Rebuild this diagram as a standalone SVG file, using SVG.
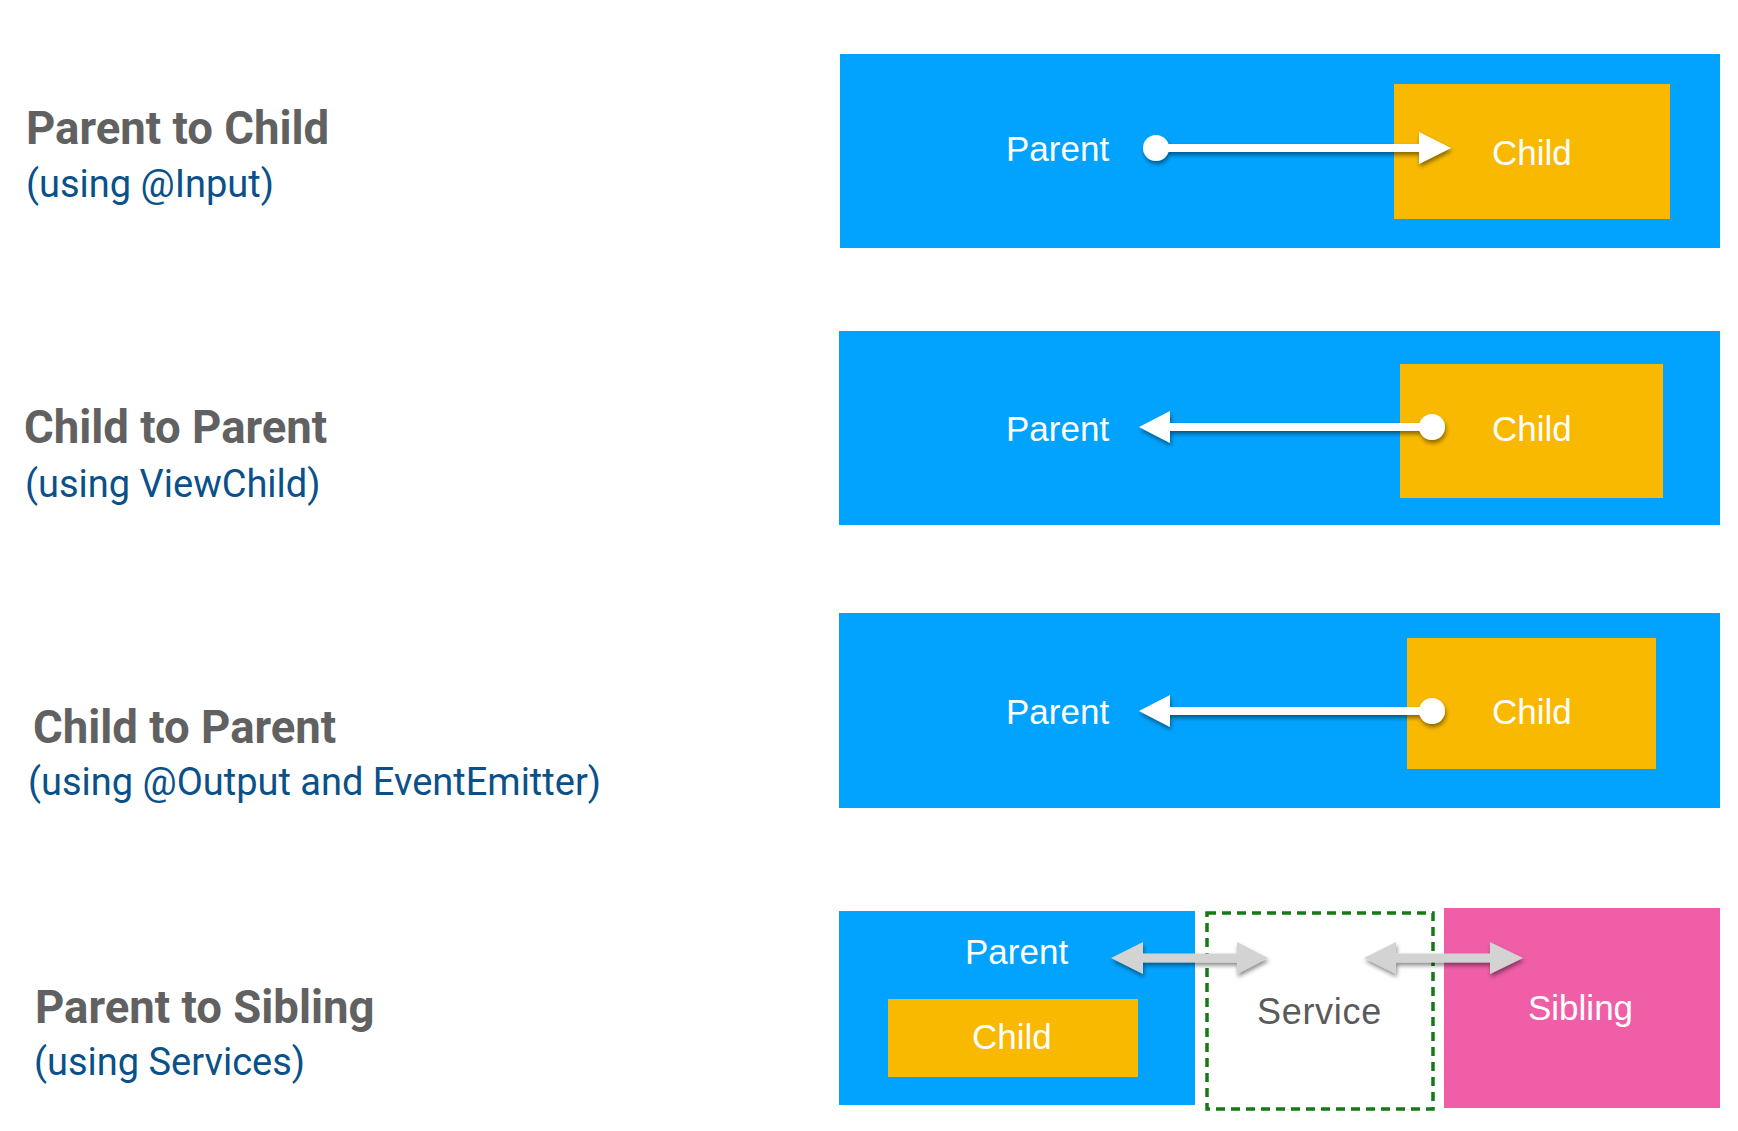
<svg xmlns="http://www.w3.org/2000/svg" width="1738" height="1131" viewBox="0 0 1738 1131">
<defs>
<style>
.title{font-family:Roboto,"Liberation Sans",sans-serif;font-weight:700;font-size:45.5px;fill:#616161}
.sub{font-family:Roboto,"Liberation Sans",sans-serif;font-size:38px;fill:#0a5189}
.lbl{font-family:"Liberation Sans",Arial,sans-serif;font-size:35px;fill:#ffffff}
.svc{font-family:"Liberation Sans",Arial,sans-serif;font-size:36px;letter-spacing:0.7px;fill:#5a5a5a}
.blue{fill:#02a3fe}
.orange{fill:#f8b900}
.pink{fill:#ef5ea7}
.wline{stroke:#ffffff;stroke-width:8;fill:none}
.warr{fill:#ffffff}
.garr{fill:#d3d3d3}
</style>
<filter id="sh" x="-20%" y="-50%" width="140%" height="220%">
<feDropShadow dx="1" dy="3" stdDeviation="2" flood-color="#000" flood-opacity="0.45"/>
</filter>
</defs>
<rect width="1738" height="1131" fill="#ffffff"/>

<g id="labels">
<text class="title" x="26" y="144">Parent to Child</text>
<text class="sub" x="26" y="197">(using @Input)</text>
<text class="title" x="24" y="443">Child to Parent</text>
<text class="sub" x="25" y="497">(using ViewChild)</text>
<text class="title" x="33" y="743">Child to Parent</text>
<text class="sub" x="28" y="795">(using @Output and EventEmitter)</text>
<text class="title" x="35" y="1023">Parent to Sibling</text>
<text class="sub" x="34" y="1075">(using Services)</text>
</g>

<g id="parent1">
<rect class="blue" x="840" y="54" width="880" height="194"/>
<text class="lbl" x="1006" y="161">Parent</text>
</g>
<g id="child1">
<rect class="orange" x="1394" y="84" width="276" height="135"/>
<text class="lbl" x="1492" y="165">Child</text>
</g>

<g id="parent2">
<rect class="blue" x="839" y="331" width="881" height="194"/>
<text class="lbl" x="1006" y="441">Parent</text>
</g>
<g id="child2">
<rect class="orange" x="1400" y="364" width="263" height="134"/>
<text class="lbl" x="1492" y="441">Child</text>
</g>

<g id="parent3">
<rect class="blue" x="839" y="613" width="881" height="195"/>
<text class="lbl" x="1006" y="724">Parent</text>
</g>
<g id="child3">
<rect class="orange" x="1407" y="638" width="249" height="131"/>
<text class="lbl" x="1492" y="724">Child</text>
</g>

<g id="parent4">
<rect class="blue" x="839" y="911" width="356" height="194"/>
<text class="lbl" x="965" y="964">Parent</text>
</g>
<g id="child4">
<rect class="orange" x="888" y="999" width="250" height="78"/>
<text class="lbl" x="972" y="1049">Child</text>
</g>
<g id="service">
<rect x="1207" y="913" width="226" height="196" fill="#ffffff" stroke="#157a15" stroke-width="3.5" stroke-dasharray="9 6"/>
<text class="svc" x="1257" y="1024">Service</text>
</g>
<g id="sibling">
<rect class="pink" x="1444" y="908" width="276" height="200"/>
<text class="lbl" x="1528" y="1020">Sibling</text>
</g>

<g id="connectors">
<g filter="url(#sh)">
<line class="wline" x1="1156" y1="148" x2="1422" y2="148"/>
<circle class="warr" cx="1156" cy="148" r="13"/>
<polygon class="warr" points="1419,132 1451,148 1419,164"/>
</g>
<g filter="url(#sh)">
<line class="wline" x1="1168" y1="427" x2="1432" y2="427"/>
<circle class="warr" cx="1432" cy="427" r="13"/>
<polygon class="warr" points="1170,411 1139,427 1170,443"/>
</g>
<g filter="url(#sh)">
<line class="wline" x1="1168" y1="711" x2="1432" y2="711"/>
<circle class="warr" cx="1432" cy="711" r="13"/>
<polygon class="warr" points="1170,695 1139,711 1170,727"/>
</g>
<g filter="url(#sh)">
<polygon class="garr" points="1111,958 1143,942 1143,953.5 1237,953.5 1237,942 1268,958 1237,974 1237,962.5 1143,962.5 1143,974"/>
</g>
<g filter="url(#sh)">
<polygon class="garr" points="1364,958 1396,942 1396,953.5 1490,953.5 1490,942 1523,958 1490,974 1490,962.5 1396,962.5 1396,974"/>
</g>
</g>
</svg>
